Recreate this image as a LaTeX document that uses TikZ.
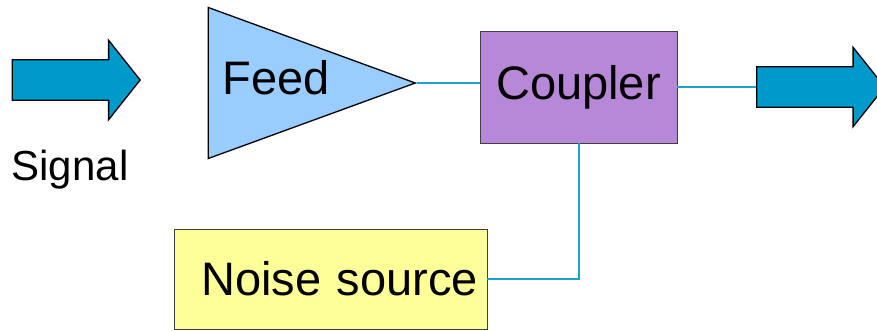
\documentclass[tikz,border=0pt]{standalone}
\usepackage{fontspec}
\setmainfont{Liberation Sans}
\usetikzlibrary{positioning,calc,shapes.geometric,shapes.arrows}
\definecolor{ArrowBlue}{HTML}{0099CC}
\definecolor{Wire}{HTML}{1EA0D2}
\definecolor{FeedBlue}{HTML}{99CCFF}
\definecolor{Lilac}{HTML}{B888D8}
\definecolor{PaleYellow}{HTML}{FFFF99}
\tikzset{
  bigarrow/.style={draw=black,fill=ArrowBlue,line width=1.3pt,single arrow,
    inner xsep=0pt,inner ysep=19.5pt,single arrow head extend=19.5pt,
    single arrow tip angle=103,minimum height=128pt},
  block/.style={draw=black!75,line width=.8pt,inner sep=0pt,font=\fontsize{47}{56}\selectfont},
  wire/.style={draw=Wire,line width=2pt},
}
\begin{document}
\begin{tikzpicture}[x=1pt,y=1pt]
    \useasboundingbox (0,0) rectangle (877,330);

    \node[bigarrow,anchor=tip] (sigin) at (141,250) {};
    \node[font=\fontsize{42}{50}\selectfont] (signal) at (70,160) {Signal};

    \node[draw=black,fill=FeedBlue,line width=1.3pt,isosceles triangle,
          isosceles triangle stretches,minimum width=151pt,minimum height=207pt,
          inner sep=0pt,anchor=apex] (feed) at (417,247) {};
    \node[font=\fontsize{47}{56}\selectfont] (feedtext) at (276,252) {Feed};

    \node[block,fill=Lilac,minimum width=197pt,minimum height=112pt] (coupler) at (578.5,243) {Coupler};
    \node[block,fill=PaleYellow,minimum width=313pt,minimum height=100pt,
          inner xsep=9pt,text width=295pt,align=right] (noise) at (330.5,51) {Noise source};

    \node[bigarrow,anchor=tail] (sigout) at (756,243) {};

    % wiring
    \draw[wire] (feed.apex) -- (feed.apex -| coupler.west);
    \draw[wire] (coupler.east) -- (sigout.tail);
    \draw[wire] (noise.east) -| (coupler.south);
\end{tikzpicture}
\end{document}
